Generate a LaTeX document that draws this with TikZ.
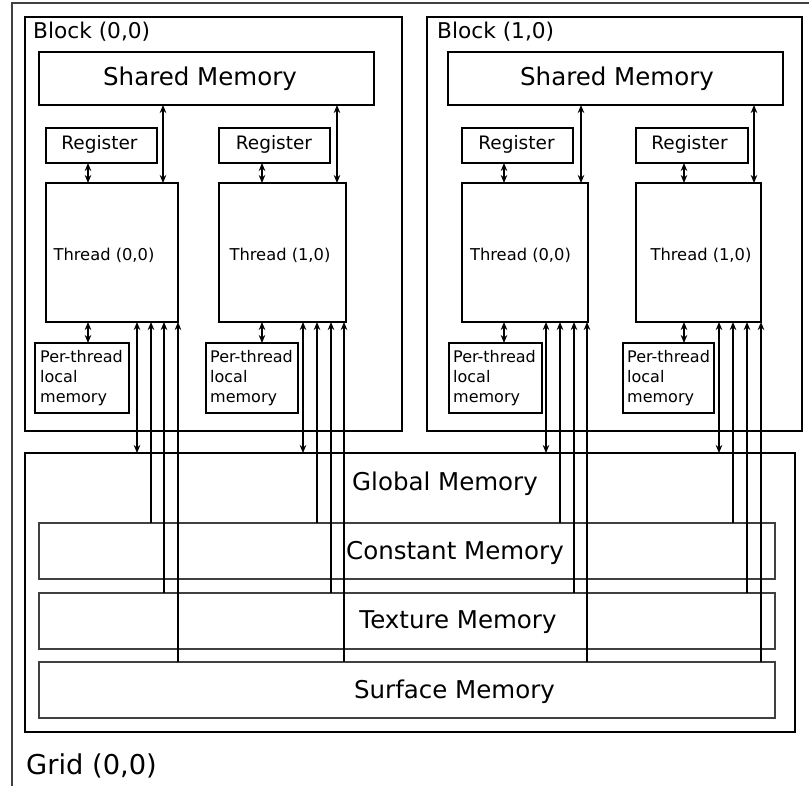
\documentclass[tikz,border=0pt]{standalone}
\usepackage{fontspec}
\setmainfont{DejaVu Sans}
\usetikzlibrary{arrows.meta}

% rectangle node given by its corners (x1,y1) and (x2,y2), y pointing down
\newcommand{\cellbox}[6]{%
  \node[#6, anchor=north west, minimum width={#4pt-#2pt}, minimum height={#5pt-#3pt}]
    (#1) at (#2,#3) {};}

\tikzset{
  x=1pt, y=-1pt,
  frame/.style={draw, line width=1.3pt, inner sep=0pt, outer sep=0pt},
  heavy/.style={draw, line width=2.2pt, inner sep=0pt, outer sep=0pt},
  lightframe/.style={draw=black!75, line width=1.3pt, inner sep=0pt, outer sep=0pt},
  lbl/.style={inner sep=0pt, anchor=base},
  big/.style={font=\fontsize{24.5}{29}\selectfont},
  mid/.style={font=\fontsize{21.7}{26}\selectfont},
  regfont/.style={font=\fontsize{18.5}{22}\selectfont},
  small/.style={font=\fontsize{16.3}{20}\selectfont},
  loc/.style={font=\fontsize{16}{20}\selectfont, inner sep=0pt, anchor=base west},
  conn/.style={line width=1.2pt, black},
  tip/.style={},
  both/.style={conn, {Stealth[length=8pt,width=6.5pt,inset=2.5pt]}-{Stealth[length=8pt,width=6.5pt,inset=2.5pt]}},
  one/.style={conn, -{Stealth[length=8pt,width=6.5pt,inset=2.5pt]}},
}

\begin{document}
\begin{tikzpicture}
\useasboundingbox (0,0) rectangle (809,785);
\clip (0,0) rectangle (809,785);
\fill[white] (0,0) rectangle (809,785);

% grid
\cellbox{grid}{12}{3}{840}{820}{lightframe}
\node[lbl, anchor=base west, font=\fontsize{27.3}{32}\selectfont] (gridt) at (26,774) {Grid (0,0)};

% blocks
\cellbox{blk0}{25}{17}{402}{431}{frame}
\cellbox{blk1}{427}{17}{802}{431}{frame}
\node[lbl, anchor=base west, mid] (blk0t) at (33,38) {Block (0,0)};
\node[lbl, anchor=base west, mid] (blk1t) at (437,38) {Block (1,0)};

% shared memory
\cellbox{sm0}{39}{52}{374}{105}{frame}
\cellbox{sm1}{448}{52}{783}{105}{frame}
\node[lbl, big] (sm0t) at (200,85) {Shared Memory};
\node[lbl, big] (sm1t) at (617,85) {Shared Memory};

% registers
\cellbox{rg00}{46}{128}{157}{163}{frame}
\cellbox{rg01}{219}{128}{330}{163}{frame}
\cellbox{rg10}{462}{128}{573}{163}{frame}
\cellbox{rg11}{636}{128}{748}{163}{frame}
\node[lbl, regfont] (rg00t) at (99.5,149) {Register};
\node[lbl, regfont] (rg01t) at (274,149) {Register};
\node[lbl, regfont] (rg10t) at (516.5,149) {Register};
\node[lbl, regfont] (rg11t) at (689.5,149) {Register};

% threads
\cellbox{th00}{46}{183}{178}{322}{frame}
\cellbox{th01}{219}{183}{346}{322}{frame}
\cellbox{th10}{462}{183}{588}{322}{frame}
\cellbox{th11}{636}{183}{761}{322}{frame}
\node[lbl, small] (th00t) at (104,260) {Thread (0,0)};
\node[lbl, small] (th01t) at (280,260) {Thread (1,0)};
\node[lbl, small] (th10t) at (520.5,260) {Thread (0,0)};
\node[lbl, small] (th11t) at (701,260) {Thread (1,0)};

% per-thread local memory
\cellbox{lm00}{35}{343}{129}{413}{frame}
\cellbox{lm01}{206}{343}{298}{413}{frame}
\cellbox{lm10}{449}{343}{542}{413}{frame}
\cellbox{lm11}{623}{343}{714}{413}{frame}
\foreach \n/\x in {lm00/40, lm01/210, lm10/453, lm11/627} {
  \node[loc] (\n a) at (\x,362) {Per-thread};
  \node[loc] (\n b) at (\x,382) {local};
  \node[loc] (\n c) at (\x,402) {memory};
}

% device memories
\cellbox{gm}{25}{453}{795}{732}{heavy}
\cellbox{cm}{39}{523}{775}{579}{lightframe}
\cellbox{tm}{39}{593}{775}{649}{lightframe}
\cellbox{sf}{39}{662}{775}{718}{lightframe}
\node[lbl, big] (gmt) at (445,490) {Global Memory};
\node[lbl, big] (cmt) at (455,559) {Constant Memory};
\node[lbl, big] (tmt) at (458,628) {Texture Memory};
\node[lbl, big] (sft) at (454.5,698) {Surface Memory};

% shared memory <-> thread
\foreach \t/\s/\x in {th00/sm0/163, th01/sm0/337, th10/sm1/581, th11/sm1/754}
  \draw[both] (\s.south -| \x,0) -- (\t.north -| \x,0);

% register <-> thread <-> local memory
\foreach \r/\t/\l/\x in {rg00/th00/lm00/88, rg01/th01/lm01/262, rg10/th10/lm10/504, rg11/th11/lm11/684} {
  \draw[both] (\r.south -| \x,0) -- (\t.north -| \x,0);
  \draw[both] (\t.south -| \x,0) -- (\l.north -| \x,0);
}

% thread <-> global, constant/texture/surface -> thread
\foreach \t/\a/\b/\c/\d in {th00/137/151/164/178, th01/303/317/331/344, th10/546/560/574/587, th11/719/733/747/761} {
  \draw[both] (\t.south -| \a,0) -- (gm.north -| \a,0);
  \draw[one] (cm.north -| \b,0) -- (\t.south -| \b,0);
  \draw[one] (tm.north -| \c,0) -- (\t.south -| \c,0);
  \draw[one] (sf.north -| \d,0) -- (\t.south -| \d,0);
}
\end{tikzpicture}
\end{document}
